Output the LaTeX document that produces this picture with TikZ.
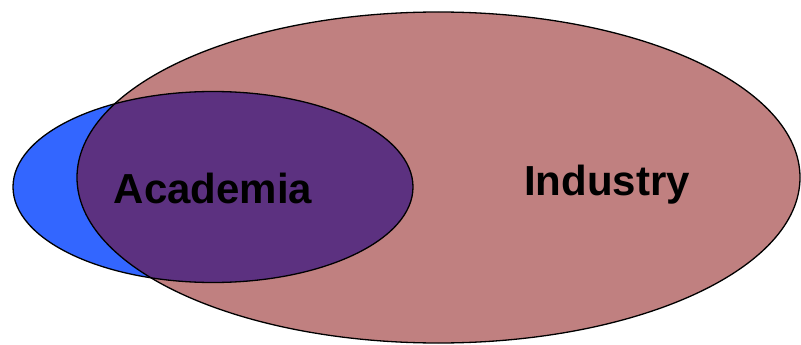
\documentclass[tikz,border=0pt]{standalone}
\usepackage{fontspec}
\setmainfont{Liberation Sans}
\definecolor{rosy}{HTML}{C08080}
\definecolor{blueA}{HTML}{3366FF}
\definecolor{purpleA}{HTML}{5C3180}
\begin{document}
\begin{tikzpicture}[x=1pt,y=-1pt,
  outline/.style={draw=black,line width=1.3pt},
  lbl/.style={font=\fontsize{42}{42}\selectfont\bfseries,inner sep=0pt,anchor=base}]
\useasboundingbox (0,0) rectangle (801,345);
\begin{scope}
\clip (0,0) rectangle (801,345);
% Industry ellipse
\fill[rosy] (438.5,177.5) ellipse [x radius=361.5, y radius=165.5];
% Academia ellipse
\fill[blueA] (213,187) ellipse [x radius=200, y radius=95.5];
% overlap
\begin{scope}
\clip (438.5,177.5) ellipse [x radius=361.5, y radius=165.5];
\fill[purpleA] (213,187) ellipse [x radius=200, y radius=95.5];
\end{scope}
\draw[outline] (438.5,177.5) ellipse [x radius=361.5, y radius=165.5];
\draw[outline] (213,187) ellipse [x radius=200, y radius=95.5];
\end{scope}
\node[lbl] (academia) at (213,203) {Academia};
\node[lbl] (industry) at (607,195) {Industry};
\end{tikzpicture}
\end{document}
